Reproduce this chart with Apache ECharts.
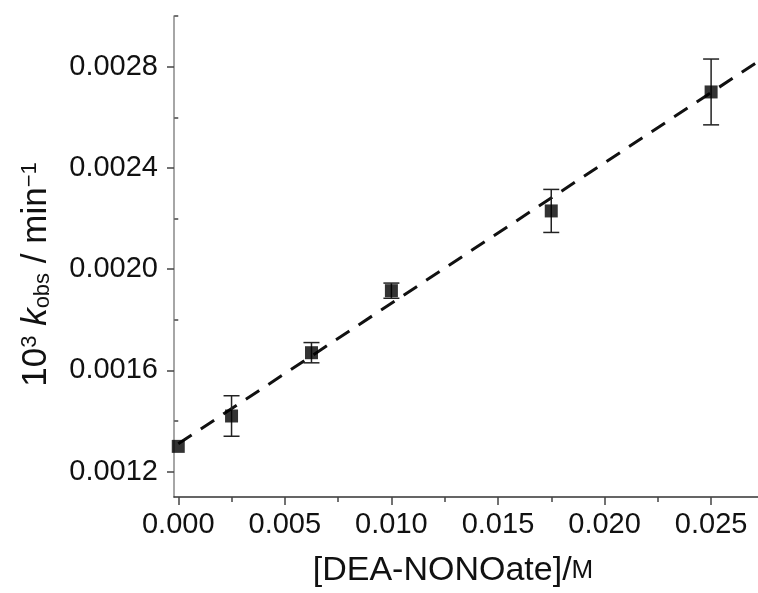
<!DOCTYPE html>
<html><head><meta charset="utf-8">
<script src="https://cdn.jsdelivr.net/npm/echarts@6/dist/echarts.min.js"></script>
<style>html,body{margin:0;padding:0;background:#fff}#c{width:758px;height:593px}</style>
</head><body><div id="c"></div>
<script>
// Data
const concX = [0.0, 0.0025, 0.00625, 0.010, 0.0175, 0.025];
const kObs = [0.00130, 0.00142, 0.00167, 0.001915, 0.00223, 0.00270];
const kErr = [0.0, 0.00008, 0.00004, 0.00003, 0.000085, 0.00013];
const fitX = [0.0, 0.0272];
const fitY = [0.00131, 0.00282];
const yMajor = [0.0012, 0.0016, 0.0020, 0.0024, 0.0028];
const yMinor = [0.0014, 0.0018, 0.0022, 0.0026, 0.0030];
const xMajor = [0.000, 0.005, 0.010, 0.015, 0.020, 0.025];
const xMinor = [0.0025, 0.0075, 0.0125, 0.0175, 0.0225];

const FONT = '"Liberation Sans", Arial, sans-serif';
const chart = echarts.init(document.getElementById('c'));

const points = concX.map((x, i) => [x, kObs[i]]);
const errData = concX.map((x, i) => [x, kObs[i] - kErr[i], kObs[i] + kErr[i]]);
const fitData = fitX.map((x, i) => [x, fitY[i]]);

const yBase = {
  type: 'value', min: 0.0011, max: 0.0030, splitLine: {show: false}
};
const xBase = {
  type: 'value', min: -0.0002, max: 0.0272, splitLine: {show: false}
};

chart.setOption({
  animation: false,
  backgroundColor: '#fff',
  grid: {left: 174, top: 16, right: 0, bottom: 96, containLabel: false},
  xAxis: [
    Object.assign({}, xBase, {
      axisLine: {show: true, onZero: false, lineStyle: {color: '#333', width: 1.5}},
      axisTick: {show: true, inside: false, length: 8, customValues: xMajor, lineStyle: {color: '#444', width: 1.5}},
      axisLabel: {customValues: xMajor, formatter: v => v.toFixed(3), fontFamily: FONT, fontSize: 29, color: '#111', margin: 13},
      name: '[DEA-NONOate]/{sc|M}',
      nameLocation: 'middle', nameGap: 57,
      nameTextStyle: {fontFamily: FONT, fontSize: 34, color: '#111', padding: [0, 26, 0, 0],
        rich: {sc: {fontFamily: FONT, fontSize: 26, color: '#111'}}}
    }),
    Object.assign({}, xBase, {
      axisLine: {show: false},
      axisTick: {show: true, inside: false, length: 5, customValues: xMinor, lineStyle: {color: '#444', width: 1.5}},
      axisLabel: {show: false}, position: 'bottom'
    })
  ],
  yAxis: [
    Object.assign({}, yBase, {
      axisLine: {show: true, onZero: false, lineStyle: {color: '#888', width: 1.5}},
      axisTick: {show: true, inside: false, length: 7, customValues: yMajor, lineStyle: {color: '#444', width: 1.5}},
      axisLabel: {customValues: yMajor, formatter: v => v.toFixed(4), fontFamily: FONT, fontSize: 29, color: '#111', margin: 16},
      name: '10{sup|3} {it|k}{sub|obs} / min{sup|\u22121}',
      nameLocation: 'middle', nameGap: 120, nameRotate: 90,
      nameTextStyle: {fontFamily: FONT, fontSize: 35, color: '#111', padding: [0, 36, 0, 0],
        rich: {
          sup: {fontFamily: FONT, fontSize: 22, color: '#111', verticalAlign: 'top', padding: [0, 0, 13, 0]},
          sub: {fontFamily: FONT, fontSize: 22, color: '#111', verticalAlign: 'bottom', padding: [11, 0, 0, 0]},
          it: {fontFamily: FONT, fontSize: 35, fontStyle: 'italic', color: '#111'}
        }}
    }),
    Object.assign({}, yBase, {
      position: 'left',
      axisLine: {show: false},
      axisTick: {show: true, inside: false, length: 4, customValues: yMinor, lineStyle: {color: '#444', width: 1.5}},
      axisLabel: {show: false}
    })
  ],
  series: [
    {
      type: 'line', data: fitData, showSymbol: false, symbol: 'none',
      lineStyle: {color: '#111', width: 3, type: [16, 11], cap: 'butt'}, z: 2
    },
    {
      type: 'custom', data: errData, z: 3,
      renderItem: function (params, api) {
        const x = api.value(0);
        if (api.value(2) - api.value(1) <= 0) return null;
        const lo = api.coord([x, api.value(1)]);
        const hi = api.coord([x, api.value(2)]);
        const hw = 8;
        const st = {stroke: '#222', lineWidth: 1.5};
        return {type: 'group', children: [
          {type: 'line', shape: {x1: lo[0], y1: lo[1], x2: hi[0], y2: hi[1]}, style: st},
          {type: 'line', shape: {x1: lo[0] - hw, y1: lo[1], x2: lo[0] + hw, y2: lo[1]}, style: st},
          {type: 'line', shape: {x1: hi[0] - hw, y1: hi[1], x2: hi[0] + hw, y2: hi[1]}, style: st}
        ]};
      }
    },
    {
      type: 'scatter', data: points, symbol: 'rect', symbolSize: 13,
      itemStyle: {color: '#000'}, z: 4
    }
  ]
});
</script>
</body></html>
